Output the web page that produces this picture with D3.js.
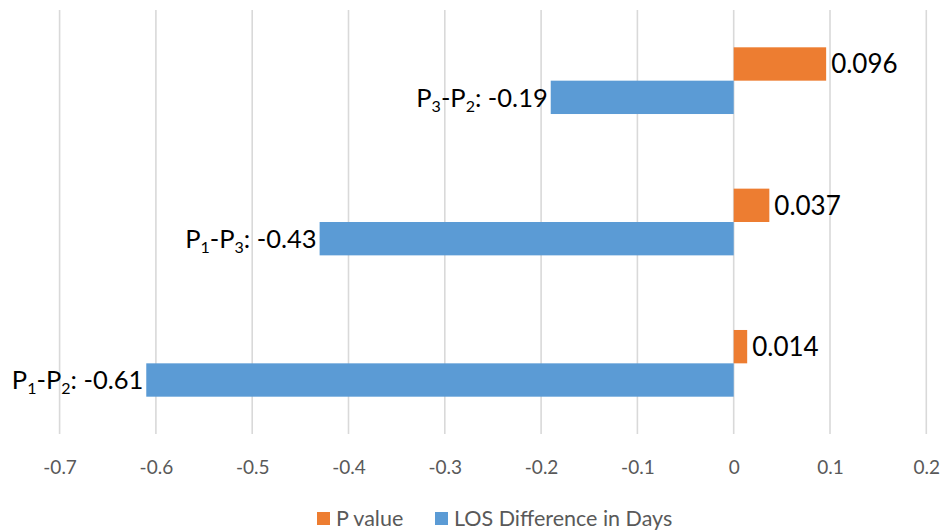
<!DOCTYPE html>
<html>
<head>
<meta charset="utf-8">
<script src="https://cdn.jsdelivr.net/npm/d3@7"></script>
<style>
  html, body { margin: 0; padding: 0; background: #fff; }
  svg { display: block; font-family: Lato, "Open Sans", sans-serif; }
</style>
</head>
<body>
<svg id="chart" width="945" height="531"></svg>
<script>
// Categories, top to bottom. Each label is "P{a}-P{b}".
const categories = ["P3-P2", "P1-P3", "P1-P2"];
const subA = ["3", "1", "1"];
const subB = ["2", "3", "2"];
const losDiff = [-0.19, -0.43, -0.61];      // LOS Difference in Days
const pValues = [0.096, 0.037, 0.014];      // P value
const pLabels = ["0.096", "0.037", "0.014"];
const xTicks = [-0.7, -0.6, -0.5, -0.4, -0.3, -0.2, -0.1, 0, 0.1, 0.2];
const seriesNames = ["P value", "LOS Difference in Days"];
const colors = ["#ED7D31", "#5B9BD5"];

const svg = d3.select("#chart");
const plotTop = 10, plotBottom = 434;

const x = d3.scaleLinear().domain([-0.7, 0.2]).range([59.6, 926.3]);
const y = d3.scaleBand().domain(categories).range([plotTop, plotBottom])
  .paddingInner(0.528).paddingOuter(0.264);
const sub = d3.scaleBand().domain(["p", "los"]).range([0, y.bandwidth()]);

// Gridlines
svg.append("g").selectAll("line").data(xTicks).join("line")
  .attr("x1", d => x(d)).attr("x2", d => x(d))
  .attr("y1", plotTop).attr("y2", plotBottom)
  .attr("stroke", "#d9d9d9").attr("stroke-width", 1.6);

// Tick labels via axis
const axis = d3.axisBottom(x).tickValues(xTicks).tickSize(0).tickPadding(0)
  .tickFormat(d => d === 0 ? "0" : d3.format(".1f")(d).replace("−", "-"));
const ax = svg.append("g").attr("transform", `translate(0, ${plotBottom})`).call(axis);
ax.select(".domain").remove();
ax.selectAll("text").attr("y", 33).attr("dy", "0.35em")
  .attr("fill", "#595959").style("font-size", "19px")
  .style("font-family", "Lato, 'Open Sans', sans-serif");

// Bars
const g = svg.append("g");
g.selectAll("rect.p").data(categories).join("rect").attr("class", "p")
  .attr("x", (d, i) => x(Math.min(0, pValues[i])))
  .attr("width", (d, i) => Math.abs(x(pValues[i]) - x(0)))
  .attr("y", d => y(d) + sub("p")).attr("height", sub.bandwidth())
  .attr("fill", colors[0]);
g.selectAll("rect.los").data(categories).join("rect").attr("class", "los")
  .attr("x", (d, i) => x(Math.min(0, losDiff[i])))
  .attr("width", (d, i) => Math.abs(x(losDiff[i]) - x(0)))
  .attr("y", d => y(d) + sub("los")).attr("height", sub.bandwidth())
  .attr("fill", colors[1]);

// P value labels
g.selectAll("text.pl").data(categories).join("text").attr("class", "pl")
  .attr("x", (d, i) => x(pValues[i]) + 5)
  .attr("y", d => y(d) + sub("p") + sub.bandwidth() / 2)
  .attr("dy", "0.36em").attr("fill", "#000").style("font-size", "26px")
  .text((d, i) => pLabels[i]);

// LOS labels with subscripts
const lt = g.selectAll("text.ll").data(categories).join("text").attr("class", "ll")
  .attr("x", (d, i) => x(losDiff[i]) - 3)
  .attr("y", d => y(d) + sub("los") + sub.bandwidth() / 2)
  .attr("dy", "0.36em").attr("text-anchor", "end")
  .attr("fill", "#000").style("font-size", "25.5px");
lt.each(function(d, i) {
  const t = d3.select(this);
  t.append("tspan").text("P");
  t.append("tspan").attr("dy", 5).style("font-size", "16px").text(subA[i]);
  t.append("tspan").attr("dy", -5).text("-P");
  t.append("tspan").attr("dy", 5).style("font-size", "16px").text(subB[i]);
  t.append("tspan").attr("dy", -5).text(": " + d3.format(".2f")(losDiff[i]).replace("−", "-"));
});

// Legend
const leg = svg.append("g");
const legX = [317, 435];
seriesNames.forEach((name, i) => {
  leg.append("rect").attr("x", legX[i]).attr("y", 512).attr("width", 13).attr("height", 13)
    .attr("fill", colors[i]);
  leg.append("text").attr("x", legX[i] + 19).attr("y", 518.5).attr("dy", "0.36em")
    .attr("fill", "#595959").style("font-size", "21.5px").text(name);
});
</script>
</body>
</html>
